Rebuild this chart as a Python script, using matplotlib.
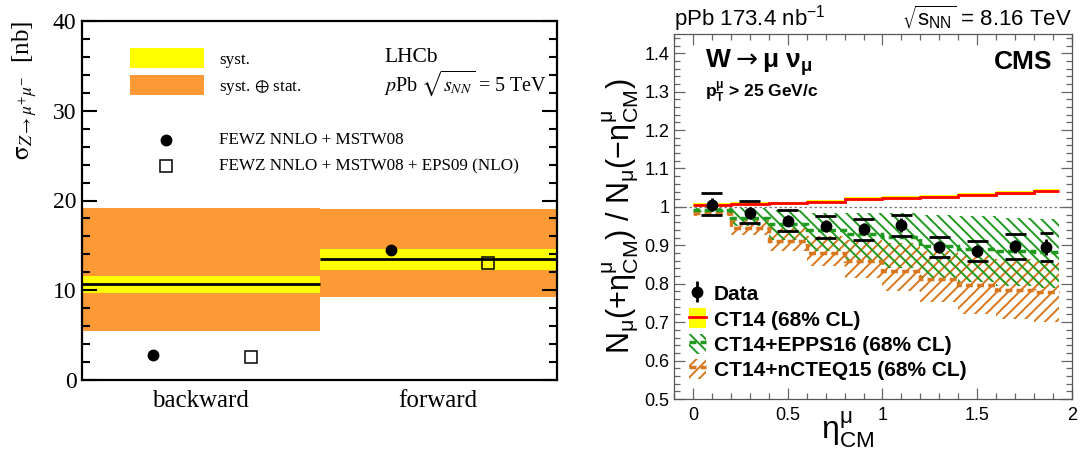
import matplotlib

matplotlib.use("Agg")
import matplotlib.pyplot as plt
import numpy as np
from matplotlib.lines import Line2D
from matplotlib.patches import Patch, Rectangle
from matplotlib.ticker import MultipleLocator

# --- LHCb Z -> mu mu cross-section (left panel) ---
lhcb_categories = ["backward", "forward"]
lhcb_edges = [0.0, 1.0, 2.0]
lhcb_measured = [10.67, 13.46]
lhcb_syst_lo = [9.67, 12.27]
lhcb_syst_hi = [11.64, 14.65]
lhcb_tot_lo = [5.43, 9.22]
lhcb_tot_hi = [19.18, 19.07]
fewz_mstw08 = [2.79, 14.46]
fewz_eps09 = [2.57, 13.05]

# --- CMS W -> mu nu forward/backward ratio (right panel) ---
eta_edges = [0.0, 0.2, 0.4, 0.6, 0.8, 1.0, 1.2, 1.4, 1.6, 1.8, 1.93]
data_x = [0.1, 0.3, 0.5, 0.7, 0.9, 1.1, 1.3, 1.5, 1.7, 1.865]
data_y = [1.006, 0.985, 0.964, 0.950, 0.942, 0.953, 0.896, 0.886, 0.898, 0.896]
data_stat = [0.016, 0.016, 0.015, 0.016, 0.016, 0.018, 0.016, 0.016, 0.017, 0.020]
data_sys_hi = [1.036, 1.015, 0.991, 0.977, 0.968, 0.980, 0.921, 0.910, 0.930, 0.932]
data_sys_lo = [0.978, 0.958, 0.937, 0.920, 0.914, 0.925, 0.869, 0.860, 0.865, 0.860]

ct14_c = [1.005, 1.007, 1.009, 1.014, 1.020, 1.023, 1.027, 1.032, 1.036, 1.041]
ct14_err = [0.005] * 10

epps16_c = [0.992, 0.972, 0.955, 0.940, 0.930, 0.922, 0.897, 0.890, 0.884, 0.882]
epps16_hi = [0.997, 0.998, 0.992, 0.985, 0.985, 0.984, 0.978, 0.975, 0.972, 0.968]
epps16_lo = [0.986, 0.950, 0.915, 0.885, 0.862, 0.840, 0.815, 0.805, 0.795, 0.790]

ncteq15_c = [0.983, 0.946, 0.912, 0.880, 0.860, 0.834, 0.813, 0.797, 0.785, 0.778]
ncteq15_hi = [0.990, 0.965, 0.945, 0.925, 0.915, 0.905, 0.885, 0.875, 0.865, 0.860]
ncteq15_lo = [0.976, 0.928, 0.885, 0.845, 0.815, 0.780, 0.752, 0.720, 0.708, 0.700]

YELLOW = "#ffff00"
ORANGE = "#fd9a35"
GREEN = "#1f9a1f"
BROWN = "#d8771e"
SERIF = "Liberation Serif"

plt.rcParams.update({"font.family": "Liberation Sans", "hatch.linewidth": 1.4})

fig = plt.figure(figsize=(10.83, 4.57), dpi=100)

# ================= left panel =================
ax1 = fig.add_axes([82 / 1083, 77 / 457, 475 / 1083, 359 / 457])
edges = np.array(lhcb_edges)
widths = np.diff(edges)
ax1.bar(edges[:-1], np.subtract(lhcb_tot_hi, lhcb_tot_lo), bottom=lhcb_tot_lo,
        width=widths, align="edge", color=ORANGE, lw=0)
ax1.bar(edges[:-1], np.subtract(lhcb_syst_hi, lhcb_syst_lo), bottom=lhcb_syst_lo,
        width=widths, align="edge", color=YELLOW, lw=0)
ax1.hlines(lhcb_measured, edges[:-1], edges[1:], color="k", lw=2)
ax1.plot(edges[:-1] + 0.30, fewz_mstw08, "o", color="k", ms=7.5)
ax1.plot(edges[:-1] + 0.71, fewz_eps09, "s", mfc="none", mec="k", mew=1.1, ms=8)

ax1.set_xlim(0, 2)
ax1.set_ylim(0, 40)
ax1.yaxis.set_major_locator(MultipleLocator(10))
ax1.yaxis.set_minor_locator(MultipleLocator(2))
ax1.tick_params(axis="y", which="both", direction="in", left=True, right=True, width=1.5,
                labelsize=17, labelfontfamily=SERIF, pad=4)
ax1.tick_params(axis="y", which="major", length=11)
ax1.tick_params(axis="y", which="minor", length=6)
ax1.set_xticks(edges[:-1] + widths / 2)
ax1.set_xticklabels(lhcb_categories)
ax1.tick_params(axis="x", length=0, labelsize=18, labelfontfamily=SERIF, pad=7)
for s in ax1.spines.values():
    s.set_linewidth(1.6)

ax1.text(-0.12, 1.0, r"$\mathrm{\sigma}_{Z\rightarrow\mu^{+}\mu^{-}}$  [nb]", rotation=90,
         ha="center", va="top", transform=ax1.transAxes, fontsize=18,
         family=SERIF, math_fontfamily="stix")

# legend drawn by hand
ax1.add_patch(Rectangle((0.10, 0.869), 0.156, 0.057, transform=ax1.transAxes,
                        color=YELLOW, lw=0))
ax1.add_patch(Rectangle((0.10, 0.793), 0.156, 0.056, transform=ax1.transAxes,
                        color=ORANGE, lw=0))
ax1.text(0.288, 0.892, "syst.", transform=ax1.transAxes, va="center",
         fontsize=12.3, family=SERIF)
ax1.text(0.288, 0.816, r"syst. $\oplus$ stat.", transform=ax1.transAxes, va="center",
         fontsize=12.3, family=SERIF, math_fontfamily="stix")
ax1.plot([0.177], [0.669], "o", color="k", ms=7.5, transform=ax1.transAxes)
ax1.plot([0.177], [0.595], "s", mfc="none", mec="k", mew=1.1, ms=8, transform=ax1.transAxes)
ax1.text(0.288, 0.669, "FEWZ NNLO + MSTW08", transform=ax1.transAxes, va="center",
         fontsize=12.3, family=SERIF)
ax1.text(0.288, 0.595, "FEWZ NNLO + MSTW08 + EPS09 (NLO)", transform=ax1.transAxes,
         va="center", fontsize=12.3, family=SERIF)
ax1.text(0.636, 0.898, "LHCb", transform=ax1.transAxes, va="center", fontsize=15.5,
         family=SERIF)
ax1.text(0.636, 0.828, r"$\mathit{p}$Pb $\sqrt{s_{NN}}$ = 5 TeV", transform=ax1.transAxes,
         va="center", fontsize=14.5, family=SERIF, math_fontfamily="stix")

# ================= right panel =================
ax2 = fig.add_axes([674 / 1083, 58 / 457, 398 / 1083, 365 / 457])
e = np.array(eta_edges)
bw = np.diff(e)
ax2.axhline(1.0, color="#777777", ls=(0, (2, 2)), lw=0.9, zorder=1)

ax2.bar(e[:-1], np.subtract(ncteq15_hi, ncteq15_lo), bottom=ncteq15_lo, width=bw,
        align="edge", fill=False, hatch="///", edgecolor=BROWN, lw=0, zorder=2)
ax2.bar(e[:-1], np.subtract(epps16_hi, epps16_lo), bottom=epps16_lo, width=bw,
        align="edge", fill=False, hatch="\\\\\\", edgecolor=GREEN, lw=0, zorder=3)
ax2.stairs(ncteq15_c, e, baseline=None, color=BROWN, ls=(0, (2, 1.2)), lw=2.5, zorder=4)
ax2.stairs(epps16_c, e, baseline=None, color=GREEN, ls=(0, (2, 1.2)), lw=2.5, zorder=4)

ct_c = np.array(ct14_c)
ct_e = np.array(ct14_err)
ax2.stairs(ct_c + ct_e, e, baseline=ct_c - ct_e, fill=True, color=YELLOW, lw=0, zorder=5)
ax2.stairs(ct_c, e, baseline=None, color="red", lw=2, zorder=6)

hw = 0.275 * bw
dx = np.array(data_x)
ax2.hlines(data_sys_hi, dx - hw, dx + hw, color="k", lw=2, zorder=7)
ax2.hlines(data_sys_lo, dx - hw, dx + hw, color="k", lw=2, zorder=7)
eb = ax2.errorbar(dx, data_y, yerr=data_stat, fmt="o", color="k", ms=7.5,
                  elinewidth=2, capsize=0, zorder=8)

ax2.set_xlim(-0.1, 2.0)
ax2.set_ylim(0.5, 1.45)
ax2.xaxis.set_major_locator(MultipleLocator(0.5))
ax2.xaxis.set_minor_locator(MultipleLocator(0.1))
ax2.yaxis.set_major_locator(MultipleLocator(0.1))
ax2.yaxis.set_minor_locator(MultipleLocator(0.02))
ax2.xaxis.set_major_formatter(plt.FuncFormatter(lambda v, p: f"{v:g}"))
ax2.yaxis.set_major_formatter(plt.FuncFormatter(lambda v, p: f"{v:g}"))
ax2.tick_params(which="both", direction="in", top=True, right=True, color="#666666",
                width=0.9, labelsize=13)
ax2.tick_params(which="major", length=8)
ax2.tick_params(which="minor", length=4)
ax2.tick_params(axis="x", pad=6)
for s in ax2.spines.values():
    s.set_color("#555555")
    s.set_linewidth(0.9)

ax2.text(-0.135, 0.5,
         r"N$_{\mathregular{μ}}$(+η$^{\mathregular{μ}}_{\mathregular{CM}}$) / "
         r"N$_{\mathregular{μ}}$(−η$^{\mathregular{μ}}_{\mathregular{CM}}$)",
         rotation=90, ha="center", va="center", transform=ax2.transAxes, fontsize=22)
ax2.text(0.435, -0.085, r"η$^{\mathregular{μ}}_{\mathregular{CM}}$", ha="center",
         va="center", transform=ax2.transAxes, fontsize=23)

ax2.text(0.0, 1.022, r"pPb 173.4 nb$^{\mathregular{-1}}$", transform=ax2.transAxes,
         ha="left", va="baseline", fontsize=16)
ax2.text(1.0, 1.022, r"$\mathregular{\sqrt{s_{NN}}}$ = 8.16 TeV", transform=ax2.transAxes,
         ha="right", va="baseline", fontsize=16)
ax2.text(0.078, 0.923, r"W$\rightarrow$μ ν$_{\mathregular{μ}}$", transform=ax2.transAxes,
         ha="left", va="center", fontsize=19, fontweight="bold")
ax2.text(0.95, 0.923, "CMS", transform=ax2.transAxes, ha="right", va="center",
         fontsize=19, fontweight="bold")
ax2.text(0.078, 0.838, r"p$^{\mathregular{μ}}_{\mathregular{T}}$ > 25 GeV/c",
         transform=ax2.transAxes, ha="left", va="center", fontsize=12.5, fontweight="bold")

h_ct14 = (Patch(facecolor=YELLOW, edgecolor="none"), Line2D([], [], color="red", lw=2))
h_epps = (Patch(fill=False, hatch="\\\\\\", edgecolor=GREEN, lw=0),
          Line2D([], [], color=GREEN, ls=(0, (2, 1.2)), lw=2.5))
h_ncteq = (Patch(fill=False, hatch="///", edgecolor=BROWN, lw=0),
           Line2D([], [], color=BROWN, ls=(0, (2, 1.2)), lw=2.5))
ax2.legend([eb, h_ct14, h_epps, h_ncteq],
           ["Data", "CT14 (68% CL)", "CT14+EPPS16 (68% CL)", "CT14+nCTEQ15 (68% CL)"],
           loc="lower left", bbox_to_anchor=(0.0, 0.012), frameon=False,
           prop={"weight": "bold", "size": 15}, handlelength=0.85, handleheight=1.1,
           handletextpad=0.35, labelspacing=0.2, borderaxespad=0.3)

fig.savefig("out.png", dpi=100)
